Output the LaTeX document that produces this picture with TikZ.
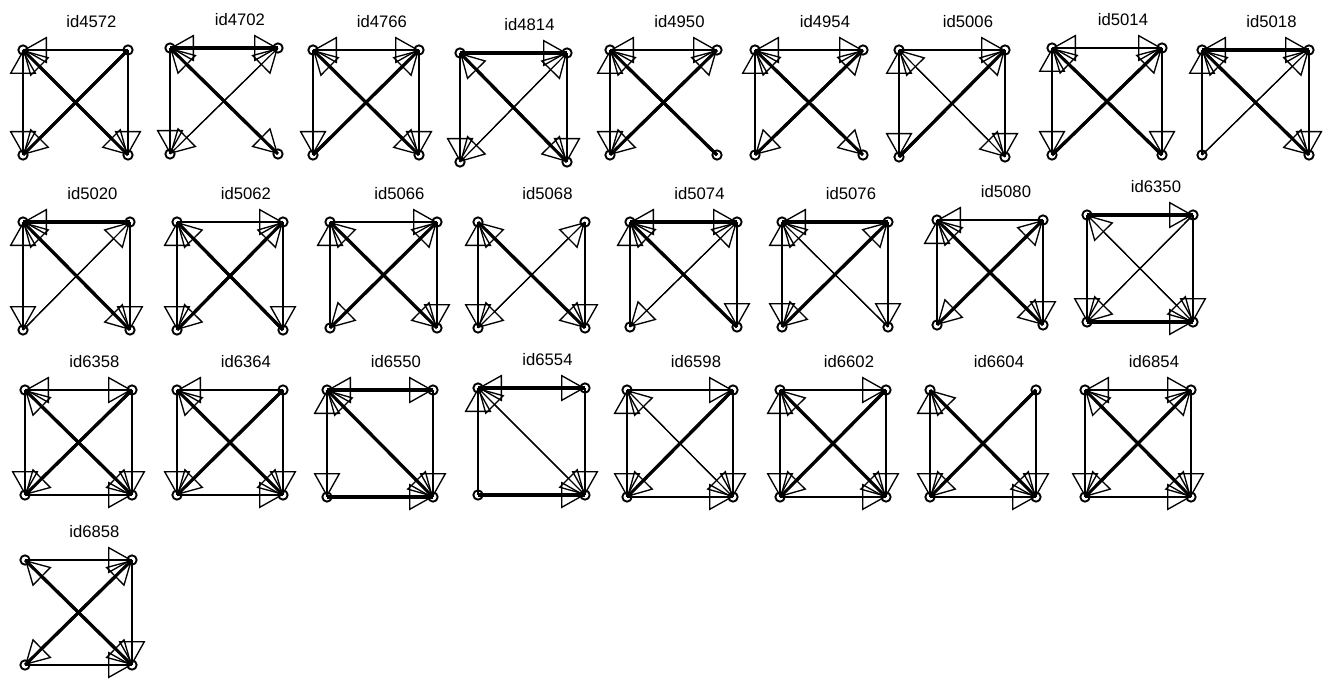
\documentclass[tikz,border=0pt]{standalone}
\usepackage{fontspec}
\setmainfont{Liberation Sans}
\usetikzlibrary{arrows.meta}

\tikzset{
  vtx/.style={circle, draw, line width=1.4pt, inner sep=0pt, minimum size=7pt},
  thinlk/.style={line width=0.9pt},
  thicklk/.style={line width=2.3pt},
  mtitle/.style={font=\fontsize{12.5}{13}\selectfont, inner sep=0pt},
}

% four vertices and the title of one motif
% #1 name, #2 label, #3/#4 upper left vertex, #5 width, #6 height
\newcommand{\motif}[6]{%
  \node[vtx] (#1a) at (#3,#4) {};
  \node[vtx] (#1b) at (#3+#5,#4) {};
  \node[vtx] (#1c) at (#3,#4+#6) {};
  \node[vtx] (#1d) at (#3+#5,#4+#6) {};
  \node[mtitle] (#1t) at (#3+#5/2+16,#4-28) {#2};
}

% one link: line through the open heads, then the heads
\newcommand{\edge}[4]{%
  \draw[#1] (#2.center) -- (#3.center);
  \draw[#1,#4] (#2.center) -- (#3.center);
}

\begin{document}
\begin{tikzpicture}[x=0.75pt, y=-0.75pt,
    >={Triangle[open, length=18pt, width=20pt, line width=1pt]}]
  \useasboundingbox (0,0) rectangle (1323,681);

  %% row 1
  \motif{p1}{id4572}{23}{50}{105}{105}
  \edge{thinlk}{p1b}{p1a}{->}
  \edge{thinlk}{p1a}{p1c}{<->}
  \edge{thinlk}{p1b}{p1d}{->}
  \edge{thicklk}{p1a}{p1d}{<->}
  \edge{thicklk}{p1b}{p1c}{->}

  \motif{p2}{id4702}{170}{48}{108}{106}
  \edge{thicklk}{p2a}{p2b}{<->}
  \edge{thinlk}{p2a}{p2c}{->}
  \edge{thicklk}{p2a}{p2d}{<->}
  \edge{thinlk}{p2b}{p2c}{<->}

  \motif{p3}{id4766}{313}{50}{106}{105}
  \edge{thinlk}{p3a}{p3b}{<->}
  \edge{thinlk}{p3a}{p3c}{->}
  \edge{thinlk}{p3b}{p3d}{->}
  \edge{thicklk}{p3a}{p3d}{<->}
  \edge{thicklk}{p3c}{p3b}{->}

  \motif{p4}{id4814}{460}{53}{107}{109}
  \edge{thicklk}{p4a}{p4b}{->}
  \edge{thinlk}{p4a}{p4c}{->}
  \edge{thinlk}{p4b}{p4d}{->}
  \edge{thicklk}{p4a}{p4d}{<->}
  \edge{thinlk}{p4b}{p4c}{<->}

  \motif{p5}{id4950}{610}{50}{107}{105}
  \edge{thinlk}{p5a}{p5b}{<->}
  \edge{thinlk}{p5a}{p5c}{<->}
  \edge{thicklk}{p5d}{p5a}{->}
  \edge{thicklk}{p5b}{p5c}{<->}

  \motif{p6}{id4954}{755}{50}{108}{105}
  \edge{thinlk}{p6a}{p6b}{<->}
  \edge{thinlk}{p6c}{p6a}{->}
  \edge{thicklk}{p6a}{p6d}{<->}
  \edge{thicklk}{p6b}{p6c}{<->}

  \motif{p7}{id5006}{899}{50}{106}{107}
  \edge{thinlk}{p7a}{p7b}{->}
  \edge{thinlk}{p7a}{p7c}{<->}
  \edge{thinlk}{p7b}{p7d}{->}
  \edge{thinlk}{p7a}{p7d}{<->}
  \edge{thicklk}{p7c}{p7b}{->}

  \motif{p8}{id5014}{1052}{48}{110}{107}
  \edge{thinlk}{p8a}{p8b}{<->}
  \edge{thinlk}{p8a}{p8c}{<->}
  \edge{thinlk}{p8b}{p8d}{->}
  \edge{thicklk}{p8d}{p8a}{->}
  \edge{thicklk}{p8c}{p8b}{->}

  \motif{p9}{id5018}{1202}{50}{107}{105}
  \edge{thicklk}{p9a}{p9b}{<->}
  \edge{thinlk}{p9c}{p9a}{->}
  \edge{thinlk}{p9b}{p9d}{->}
  \edge{thicklk}{p9a}{p9d}{<->}
  \edge{thinlk}{p9c}{p9b}{->}

  %% row 2
  \motif{p10}{id5020}{23}{222}{107}{108}
  \edge{thicklk}{p10b}{p10a}{->}
  \edge{thinlk}{p10a}{p10c}{<->}
  \edge{thinlk}{p10b}{p10d}{->}
  \edge{thicklk}{p10a}{p10d}{<->}
  \edge{thinlk}{p10c}{p10b}{->}

  \motif{p11}{id5062}{177}{222}{106}{108}
  \edge{thinlk}{p11a}{p11b}{->}
  \edge{thinlk}{p11a}{p11c}{<->}
  \edge{thinlk}{p11b}{p11d}{->}
  \edge{thicklk}{p11d}{p11a}{->}
  \edge{thicklk}{p11b}{p11c}{<->}

  \motif{p12}{id5066}{330}{222}{107}{106}
  \edge{thinlk}{p12a}{p12b}{->}
  \edge{thinlk}{p12c}{p12a}{->}
  \edge{thinlk}{p12b}{p12d}{->}
  \edge{thicklk}{p12a}{p12d}{<->}
  \edge{thicklk}{p12b}{p12c}{<->}

  \motif{p13}{id5068}{478}{222}{107}{106}
  \edge{thinlk}{p13a}{p13c}{<->}
  \edge{thinlk}{p13b}{p13d}{->}
  \edge{thicklk}{p13a}{p13d}{<->}
  \edge{thinlk}{p13b}{p13c}{<->}

  \motif{p14}{id5074}{630}{222}{107}{105}
  \edge{thicklk}{p14a}{p14b}{<->}
  \edge{thinlk}{p14c}{p14a}{->}
  \edge{thinlk}{p14b}{p14d}{->}
  \edge{thicklk}{p14d}{p14a}{->}
  \edge{thinlk}{p14b}{p14c}{<->}

  \motif{p15}{id5076}{782}{222}{106}{105}
  \edge{thicklk}{p15b}{p15a}{->}
  \edge{thinlk}{p15a}{p15c}{<->}
  \edge{thinlk}{p15b}{p15d}{->}
  \edge{thinlk}{p15d}{p15a}{->}
  \edge{thicklk}{p15b}{p15c}{<->}

  \motif{p16}{id5080}{937}{220}{106}{105}
  \edge{thinlk}{p16b}{p16a}{->}
  \edge{thinlk}{p16c}{p16a}{->}
  \edge{thinlk}{p16b}{p16d}{->}
  \edge{thicklk}{p16a}{p16d}{<->}
  \edge{thicklk}{p16b}{p16c}{<->}

  \motif{p17}{id6350}{1087}{215}{106}{107}
  \edge{thicklk}{p17a}{p17b}{->}
  \edge{thinlk}{p17a}{p17c}{->}
  \edge{thinlk}{p17b}{p17d}{->}
  \edge{thinlk}{p17a}{p17d}{<->}
  \edge{thinlk}{p17b}{p17c}{->}
  \edge{thicklk}{p17c}{p17d}{->}

  %% row 3
  \motif{p18}{id6358}{25}{390}{107}{105}
  \edge{thinlk}{p18a}{p18b}{<->}
  \edge{thinlk}{p18a}{p18c}{->}
  \edge{thinlk}{p18b}{p18d}{->}
  \edge{thicklk}{p18a}{p18d}{<->}
  \edge{thicklk}{p18b}{p18c}{->}
  \edge{thinlk}{p18c}{p18d}{->}

  \motif{p19}{id6364}{177}{390}{106}{105}
  \edge{thinlk}{p19b}{p19a}{->}
  \edge{thinlk}{p19a}{p19c}{->}
  \edge{thinlk}{p19b}{p19d}{->}
  \edge{thicklk}{p19a}{p19d}{<->}
  \edge{thicklk}{p19b}{p19c}{->}
  \edge{thinlk}{p19c}{p19d}{->}

  \motif{p20}{id6550}{327}{390}{106}{107}
  \edge{thicklk}{p20a}{p20b}{<->}
  \edge{thinlk}{p20a}{p20c}{<->}
  \edge{thinlk}{p20b}{p20d}{->}
  \edge{thicklk}{p20a}{p20d}{<->}
  \edge{thicklk}{p20c}{p20d}{->}

  \motif{p21}{id6554}{478}{388}{107}{107}
  \edge{thicklk}{p21a}{p21b}{<->}
  \edge{thinlk}{p21c}{p21a}{->}
  \edge{thinlk}{p21b}{p21d}{->}
  \edge{thinlk}{p21a}{p21d}{<->}
  \edge{thicklk}{p21c}{p21d}{->}

  \motif{p22}{id6598}{627}{390}{106}{107}
  \edge{thinlk}{p22a}{p22b}{->}
  \edge{thinlk}{p22a}{p22c}{<->}
  \edge{thinlk}{p22b}{p22d}{->}
  \edge{thinlk}{p22a}{p22d}{<->}
  \edge{thicklk}{p22b}{p22c}{->}
  \edge{thinlk}{p22c}{p22d}{->}

  \motif{p23}{id6602}{780}{390}{106}{107}
  \edge{thinlk}{p23a}{p23b}{->}
  \edge{thinlk}{p23a}{p23c}{<->}
  \edge{thinlk}{p23b}{p23d}{->}
  \edge{thicklk}{p23a}{p23d}{<->}
  \edge{thicklk}{p23b}{p23c}{->}
  \edge{thinlk}{p23c}{p23d}{->}

  \motif{p24}{id6604}{930}{390}{106}{107}
  \edge{thinlk}{p24a}{p24c}{<->}
  \edge{thinlk}{p24b}{p24d}{->}
  \edge{thicklk}{p24a}{p24d}{<->}
  \edge{thicklk}{p24b}{p24c}{->}
  \edge{thinlk}{p24c}{p24d}{->}

  \motif{p25}{id6854}{1085}{390}{106}{107}
  \edge{thinlk}{p25a}{p25b}{<->}
  \edge{thinlk}{p25a}{p25c}{->}
  \edge{thinlk}{p25b}{p25d}{->}
  \edge{thicklk}{p25a}{p25d}{<->}
  \edge{thicklk}{p25b}{p25c}{<->}
  \edge{thinlk}{p25c}{p25d}{->}

  %% row 4
  \motif{p26}{id6858}{25}{560}{107}{105}
  \edge{thinlk}{p26a}{p26b}{->}
  \edge{thinlk}{p26b}{p26d}{->}
  \edge{thicklk}{p26a}{p26d}{<->}
  \edge{thicklk}{p26b}{p26c}{<->}
  \edge{thinlk}{p26c}{p26d}{->}
\end{tikzpicture}
\end{document}
